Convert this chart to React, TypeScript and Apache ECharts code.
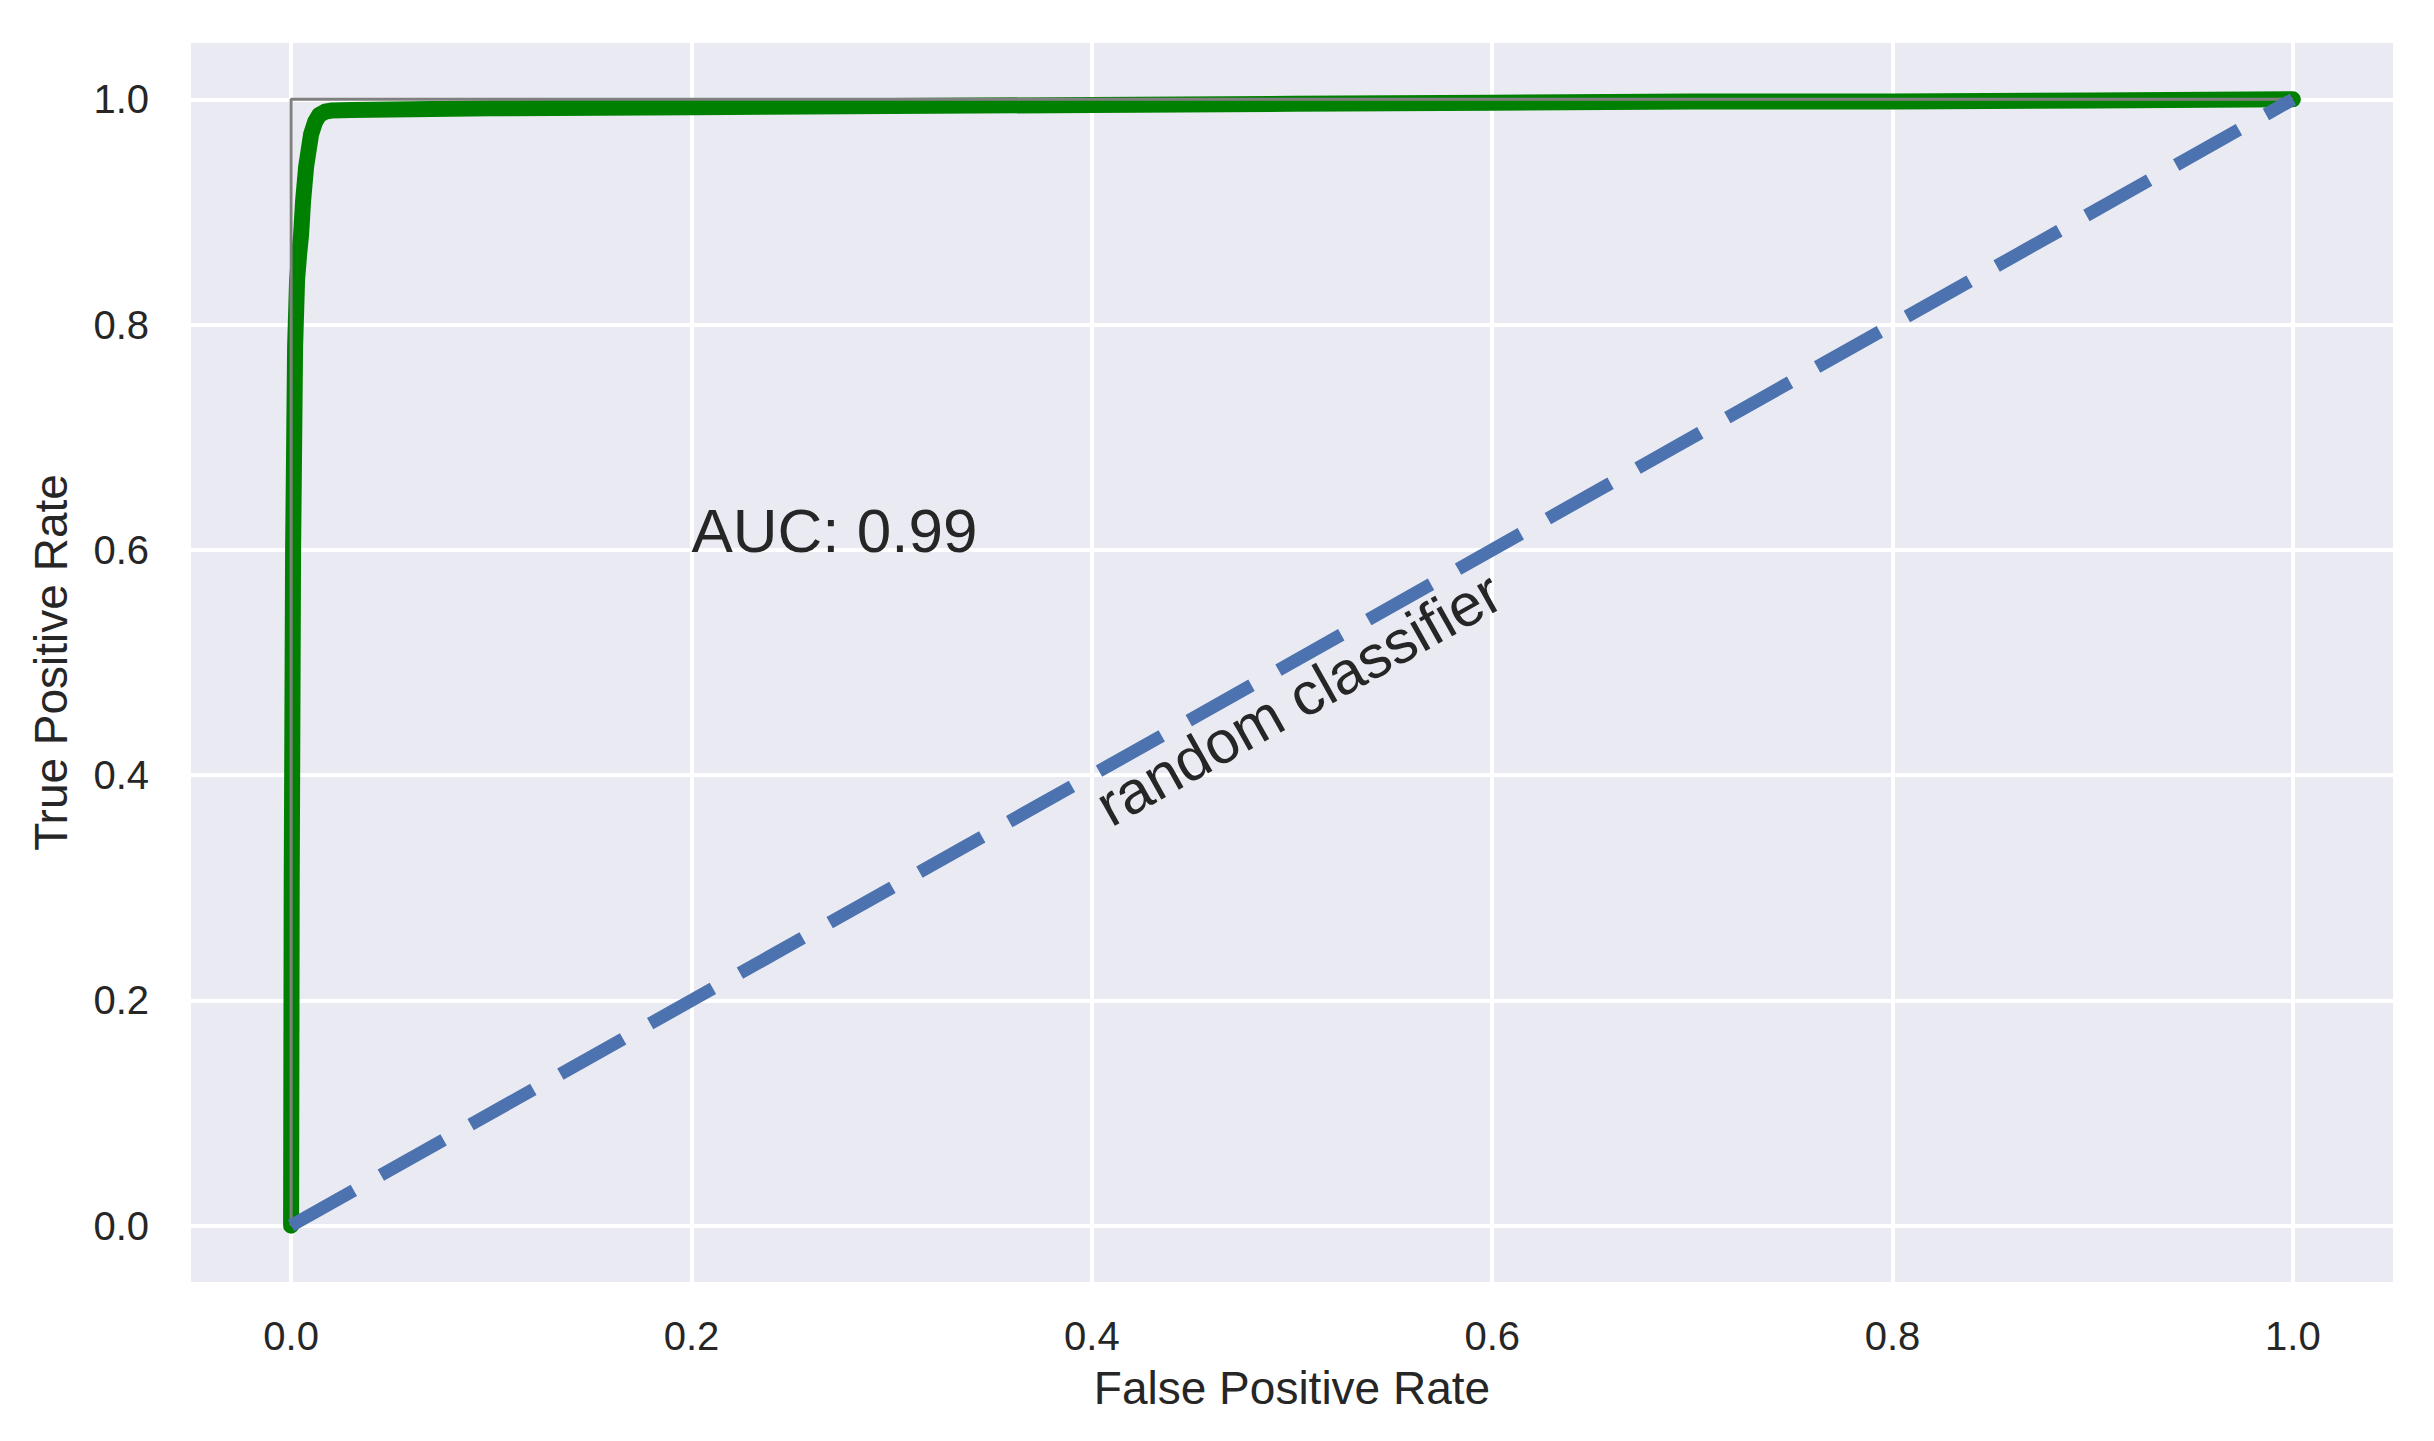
import React, { useEffect, useRef } from "react";
import * as echarts from "echarts";

// ROC curve (model)
const fprValues = [0, 0.0003, 0.001, 0.002, 0.003, 0.004, 0.005, 0.006, 0.0075, 0.0087, 0.01, 0.012, 0.014, 0.017, 0.02, 0.03, 0.05, 0.1, 0.2, 0.3, 0.4, 0.5, 0.6, 0.7, 0.8, 0.9, 1.0];
const tprValues = [0, 0.3, 0.6, 0.78, 0.84, 0.862, 0.88, 0.91, 0.94, 0.954, 0.969, 0.98, 0.986, 0.989, 0.99, 0.9905, 0.991, 0.992, 0.993, 0.994, 0.995, 0.996, 0.997, 0.998, 0.998, 0.999, 1.0];

// Perfect classifier (grey step)
const perfectX = [0, 0, 1];
const perfectY = [0, 1, 1];

// Random classifier (dashed diagonal)
const randomX = [0, 1];
const randomY = [0, 1];

const tickValues = [0, 0.2, 0.4, 0.6, 0.8, 1.0];
const axisMin = -0.05;
const axisMax = 1.05;

const xTitle = "False Positive Rate";
const yTitle = "True Positive Rate";
const aucLabel = "AUC: 0.99";
const aucAt = [0.2, 0.59];
const diagLabel = "random classifier";
const diagAt = [0.412, 0.346];

const FONT = '"Liberation Sans", Arial, sans-serif';
const TXT = "#262626";

const zip = (xs: number[], ys: number[]) => xs.map((x, i) => [x, ys[i]]);

const fmt = (v: number) =>
  tickValues.some((t) => Math.abs(t - v) < 1e-9) ? v.toFixed(1) : "";

export default function App() {
  const ref = useRef<HTMLDivElement>(null);

  useEffect(() => {
    if (!ref.current) return;
    const chart = echarts.init(ref.current, undefined, { renderer: "svg" });

    const axisCommon = {
      type: "value" as const,
      min: axisMin,
      max: axisMax,
      axisLine: { show: false },
      axisTick: { show: false },
      splitLine: {
        show: true,
        showMinLine: false,
        showMaxLine: false,
        lineStyle: { color: "#ffffff", width: 4 },
      },
      nameLocation: "middle" as const,
      nameTextStyle: { fontSize: 46, color: TXT, fontFamily: FONT },
    };

    chart.setOption({
      animation: false,
      backgroundColor: "#ffffff",
      textStyle: { fontFamily: FONT },
      grid: {
        left: 191,
        top: 43,
        right: 41,
        bottom: 159,
        show: true,
        backgroundColor: "#EAEAF2",
        borderWidth: 0,
        containLabel: false,
        outerBoundsMode: "none",
      },
      xAxis: {
        ...axisCommon,
        name: xTitle,
        nameGap: 83,
        axisLabel: { fontSize: 40, color: TXT, margin: 34, formatter: fmt, fontFamily: FONT },
      },
      yAxis: {
        ...axisCommon,
        name: yTitle,
        nameGap: 117,
        nameRotate: 90,
        axisLabel: { fontSize: 40, color: TXT, margin: 42, formatter: fmt, fontFamily: FONT },
      },
      series: [
        {
          type: "line",
          data: zip(fprValues, tprValues),
          showSymbol: false,
          symbol: "none",
          lineStyle: { color: "#008000", width: 16, cap: "round", join: "round" },
          z: 2,
        },
        {
          type: "line",
          data: zip(perfectX, perfectY),
          showSymbol: false,
          symbol: "none",
          lineStyle: { color: "#808080", width: 3 },
          z: 3,
        },
        {
          type: "line",
          data: zip(randomX, randomY),
          showSymbol: false,
          symbol: "none",
          lineStyle: { color: "#4C72B0", width: 13, type: [72, 31], cap: "butt" },
          z: 4,
        },
      ],
    });

    const p0 = chart.convertToPixel({ gridIndex: 0 }, [randomX[0], randomY[0]]) as number[];
    const p1 = chart.convertToPixel({ gridIndex: 0 }, [randomX[1], randomY[1]]) as number[];
    const angle = Math.atan2(p0[1] - p1[1], p1[0] - p0[0]);
    const aucPx = chart.convertToPixel({ gridIndex: 0 }, aucAt) as number[];
    const diagPx = chart.convertToPixel({ gridIndex: 0 }, diagAt) as number[];

    chart.setOption({
      graphic: [
        {
          type: "text",
          x: aucPx[0],
          y: aucPx[1],
          z: 100,
          style: {
            text: aucLabel,
            fill: TXT,
            fontSize: 62,
            fontFamily: FONT,
            align: "left",
            verticalAlign: "bottom",
          },
        },
        {
          type: "text",
          x: diagPx[0],
          y: diagPx[1],
          rotation: angle,
          z: 100,
          style: {
            text: diagLabel,
            fill: TXT,
            fontSize: 60,
            fontFamily: FONT,
            align: "left",
            verticalAlign: "bottom",
          },
        },
      ],
    });

    return () => chart.dispose();
  }, []);

  return (
    <div
      ref={ref}
      style={{ position: "fixed", left: 0, top: 0, width: 2434, height: 1441 }}
    />
  );
}
